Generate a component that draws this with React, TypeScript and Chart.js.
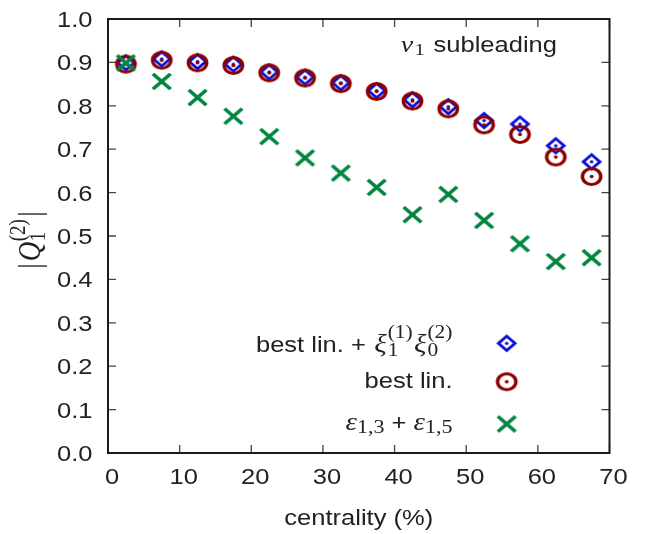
import React, { useEffect, useRef } from 'react';
import { Chart, registerables } from 'chart.js';

Chart.register(...registerables);

const centrality = [2.5, 7.5, 12.5, 17.5, 22.5, 27.5, 32.5, 37.5, 42.5, 47.5, 52.5, 57.5, 62.5, 67.5];
const bestLinXi = [0.899, 0.908, 0.902, 0.896, 0.878, 0.866, 0.853, 0.835, 0.814, 0.798, 0.766, 0.758, 0.708, 0.671];
const bestLin = [0.896, 0.905, 0.899, 0.893, 0.876, 0.864, 0.851, 0.833, 0.811, 0.793, 0.756, 0.734, 0.682, 0.637];
const epsSum = [0.899, 0.856, 0.819, 0.776, 0.729, 0.680, 0.645, 0.612, 0.549, 0.596, 0.536, 0.482, 0.441, 0.450];
const xTicks = [0, 10, 20, 30, 40, 50, 60, 70];
const yTicks = [0, 0.1, 0.2, 0.3, 0.4, 0.5, 0.6, 0.7, 0.8, 0.9, 1.0];

const BLUE = '#0a0ad8';
const RED = '#8c0000';
const GREEN = '#00843f';
const TEXT = '#222222';
const SANS = 'Liberation Sans';
const SERIF = 'Liberation Serif';
const SX = 1.16; // horizontal stretch of the reference rendering

interface Run { text: string; font: string; dy?: number; stack?: Run; gap?: number }

function runWidth(ctx: CanvasRenderingContext2D, r: Run): number {
  ctx.font = r.font;
  let w = ctx.measureText(r.text).width;
  if (r.stack) {
    ctx.font = r.stack.font;
    w = Math.max(w, ctx.measureText(r.stack.text).width);
  }
  return w + (r.gap || 0);
}

// draws runs; x,y are in canvas px, text is stretched horizontally by sx
function drawRich(ctx: CanvasRenderingContext2D, runs: Run[], x: number, y: number, align: 'left' | 'right' | 'center', sx = SX) {
  const total = runs.reduce((a, r) => a + runWidth(ctx, r), 0);
  ctx.save();
  ctx.translate(x, y);
  ctx.scale(sx, 1);
  let cx = align === 'left' ? 0 : align === 'right' ? -total : -total / 2;
  ctx.textAlign = 'left';
  ctx.textBaseline = 'alphabetic';
  for (const r of runs) {
    const w = runWidth(ctx, r);
    const g = (r.gap || 0) / 2;
    ctx.font = r.font;
    ctx.fillText(r.text, cx + g, r.dy || 0);
    if (r.stack) {
      ctx.font = r.stack.font;
      ctx.fillText(r.stack.text, cx + g, r.stack.dy || 0);
    }
    cx += w;
  }
  ctx.restore();
}

function makeMarker(kind: string): HTMLCanvasElement {
  const c = document.createElement('canvas');
  c.width = 27;
  c.height = 23;
  const ctx = c.getContext('2d') as CanvasRenderingContext2D;
  ctx.translate(c.width / 2, c.height / 2);
  ctx.scale(SX, 1);
  if (kind === 'diamond') {
    ctx.strokeStyle = BLUE;
    ctx.lineWidth = 2.6;
    const r = 7.2;
    ctx.beginPath();
    ctx.moveTo(0, -r);
    ctx.lineTo(r, 0);
    ctx.lineTo(0, r);
    ctx.lineTo(-r, 0);
    ctx.closePath();
    ctx.stroke();
    ctx.fillStyle = BLUE;
    ctx.beginPath();
    ctx.arc(0, 0, 1.6, 0, Math.PI * 2);
    ctx.fill();
  } else if (kind === 'circle') {
    ctx.strokeStyle = RED;
    ctx.lineWidth = 3;
    ctx.beginPath();
    ctx.arc(0, 0, 7.9, 0, Math.PI * 2);
    ctx.stroke();
    ctx.fillStyle = RED;
    ctx.beginPath();
    ctx.arc(0, 0, 1.7, 0, Math.PI * 2);
    ctx.fill();
  } else {
    ctx.strokeStyle = GREEN;
    ctx.lineWidth = 3.4;
    const h = 7.6;
    ctx.beginPath();
    ctx.moveTo(-h, -h);
    ctx.lineTo(h, h);
    ctx.moveTo(h, -h);
    ctx.lineTo(-h, h);
    ctx.stroke();
  }
  return c;
}

function makeFramePlugin() {
  return {
    id: 'frameTicks',
    beforeDatasetsDraw(chart: any) {
      const { ctx, chartArea: a, scales } = chart;
      ctx.save();
      ctx.strokeStyle = '#444444';
      ctx.lineWidth = 1.3;
      const tl = 8;
      ctx.beginPath();
      for (const v of xTicks) {
        const px = scales.x.getPixelForValue(v);
        ctx.moveTo(px, a.bottom);
        ctx.lineTo(px, a.bottom - tl);
        ctx.moveTo(px, a.top);
        ctx.lineTo(px, a.top + tl);
      }
      for (const v of yTicks) {
        const py = scales.y.getPixelForValue(v);
        ctx.moveTo(a.left, py);
        ctx.lineTo(a.left + tl, py);
        ctx.moveTo(a.right, py);
        ctx.lineTo(a.right - tl, py);
      }
      ctx.stroke();
      ctx.strokeStyle = '#1a1a1a';
      ctx.lineWidth = 2;
      ctx.strokeRect(a.left, a.top, a.right - a.left, a.bottom - a.top);
      ctx.restore();
    },
  };
}

function makeTextPlugin(markers: Record<string, HTMLCanvasElement>) {
  return {
    id: 'texts',
    afterDraw(chart: any) {
      const { ctx, chartArea: a, scales } = chart;
      ctx.save();
      ctx.fillStyle = TEXT;
      const tickFont = `22px ${SANS}`;

      // tick labels
      for (const v of xTicks) {
        const px = scales.x.getPixelForValue(v);
        drawRich(ctx, [{ text: String(v), font: tickFont }], px + 4, 484, 'center');
      }
      for (const v of yTicks) {
        const py = scales.y.getPixelForValue(v);
        drawRich(ctx, [{ text: v.toFixed(1), font: tickFont }], 92.5, py + 8, 'right');
      }

      // x title
      drawRich(ctx, [{ text: 'centrality (%)', font: tickFont }], (a.left + a.right) / 2, 525, 'center');

      // y title (rotated)
      ctx.save();
      ctx.translate(40, 240);
      ctx.rotate(-Math.PI / 2);
      ctx.scale(1, SX);
      drawRich(ctx, [
        { text: '|', font: `27px ${SERIF}`, gap: 4 },
        { text: 'Q', font: `italic 27px ${SERIF}` },
        { text: '1', font: `19px ${SERIF}`, dy: 4, stack: { text: '(2)', font: `19px ${SERIF}`, dy: -13 }, gap: 1 },
        { text: '|', font: `27px ${SERIF}`, gap: 4 },
      ], 0, 0, 'center', 1);
      ctx.restore();

      // annotation
      drawRich(ctx, [
        { text: 'v', font: `italic 24px ${SERIF}` },
        { text: '1', font: `17px ${SERIF}`, dy: 3, gap: 3 },
        { text: ' subleading', font: tickFont },
      ], 557, 52, 'right');

      // legend
      const lx = 452.5;
      const mx = 506.7;
      drawRich(ctx, [
        { text: 'best lin. + ', font: tickFont },
        { text: 'ξ', font: `italic 25px ${SERIF}`, gap: 2 },
        { text: '1', font: `18.5px ${SERIF}`, dy: 4, stack: { text: '(1)', font: `18.5px ${SERIF}`, dy: -14 } },
        { text: 'ξ', font: `italic 25px ${SERIF}`, gap: 2 },
        { text: '0', font: `18.5px ${SERIF}`, dy: 4, stack: { text: '(2)', font: `18.5px ${SERIF}`, dy: -14 } },
      ], lx, 351.5, 'right');
      drawRich(ctx, [{ text: 'best lin.', font: tickFont }], lx, 388, 'right');
      drawRich(ctx, [
        { text: 'ε', font: `italic 25px ${SERIF}` },
        { text: '1,3', font: `19px ${SERIF}`, dy: 3 },
        { text: ' + ', font: tickFont },
        { text: 'ε', font: `italic 25px ${SERIF}` },
        { text: '1,5', font: `19px ${SERIF}`, dy: 3 },
      ], lx, 430, 'right');

      const put = (m: HTMLCanvasElement, y: number) => ctx.drawImage(m, mx - m.width / 2, y - m.height / 2);
      put(markers.diamond, 343.3);
      put(markers.circle, 381.7);
      put(markers.cross, 424);

      ctx.restore();
    },
  };
}

export default function App() {
  const ref = useRef<HTMLCanvasElement | null>(null);

  useEffect(() => {
    document.body.style.margin = '0';
    const canvas = ref.current;
    if (!canvas) return;
    const markers = {
      diamond: makeMarker('diamond'),
      circle: makeMarker('circle'),
      cross: makeMarker('cross'),
    };
    const pts = (ys: number[]) => centrality.map((x, i) => ({ x, y: ys[i] }));
    const chart = new Chart(canvas, {
      type: 'scatter',
      data: {
        datasets: [
          { label: 'eps', data: pts(epsSum), pointStyle: markers.cross, order: 1 },
          { label: 'best lin.', data: pts(bestLin), pointStyle: markers.circle, order: 2 },
          { label: 'best lin. + xi', data: pts(bestLinXi), pointStyle: markers.diamond, order: 3 },
        ],
      },
      options: {
        animation: false,
        responsive: false,
        devicePixelRatio: 1,
        clip: false,
        layout: { padding: { top: 19, right: 43.5, left: 0, bottom: 0 } },
        plugins: { legend: { display: false }, tooltip: { enabled: false } },
        events: [],
        scales: {
          x: {
            type: 'linear',
            min: 0,
            max: 70,
            afterFit: (s: any) => { s.height = 81; s.paddingLeft = 0; s.paddingRight = 0; },
            ticks: { display: false },
            grid: { display: false },
            border: { display: false },
          },
          y: {
            type: 'linear',
            min: 0,
            max: 1,
            afterFit: (s: any) => { s.width = 108; s.paddingTop = 0; s.paddingBottom = 0; },
            ticks: { display: false },
            grid: { display: false },
            border: { display: false },
          },
        },
      },
      plugins: [makeFramePlugin(), makeTextPlugin(markers)],
    } as any);
    return () => chart.destroy();
  }, []);

  return <canvas ref={ref} width={653} height={534} style={{ display: 'block', width: 653, height: 534 }} />;
}
